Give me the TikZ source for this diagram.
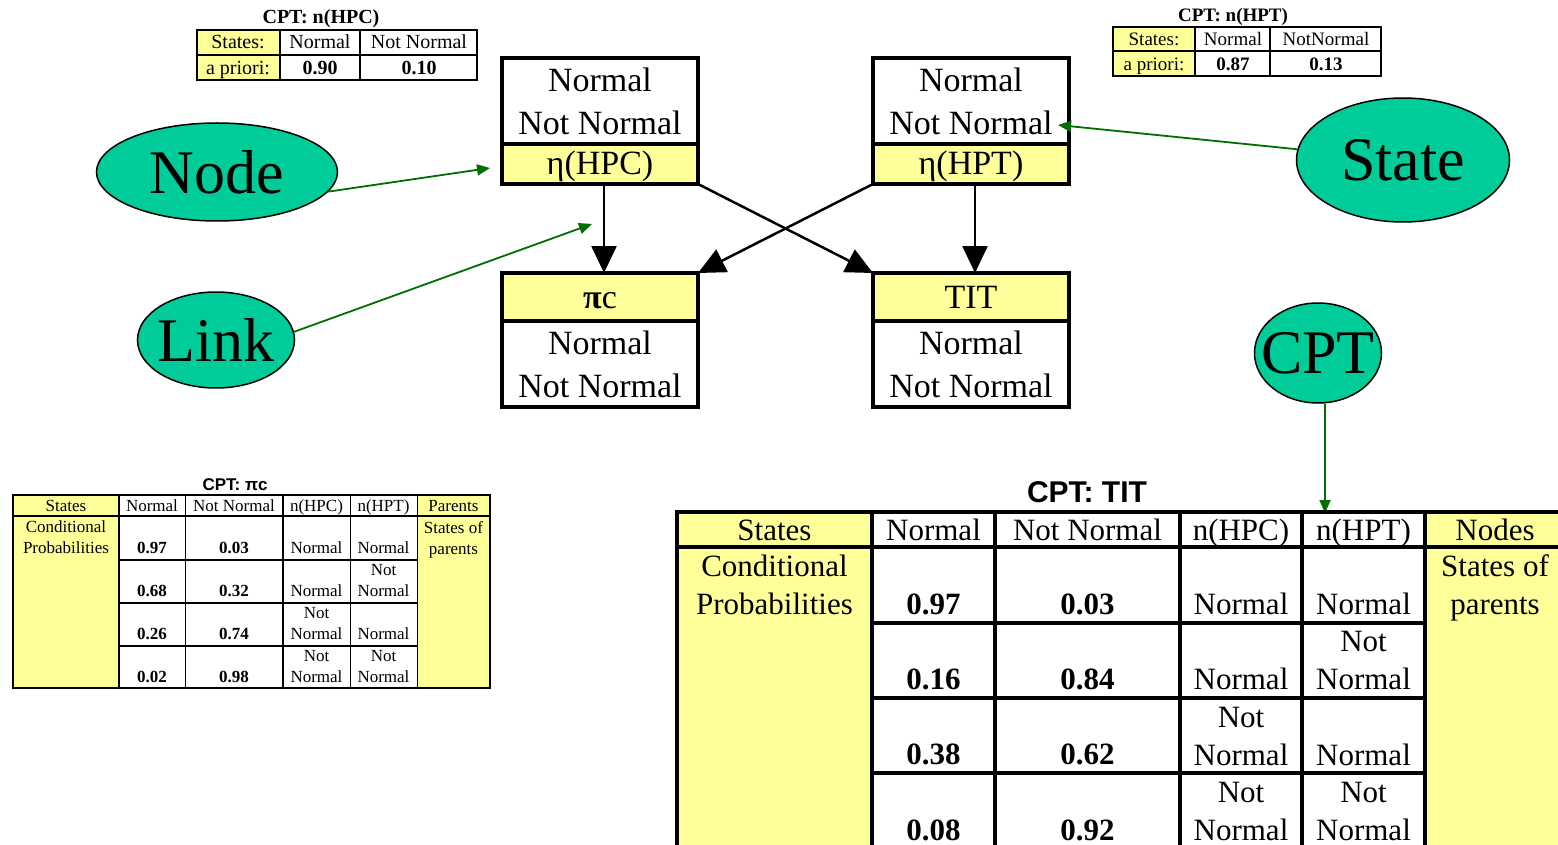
\documentclass[tikz,border=0pt]{standalone}
\usepackage{fontspec}
\setmainfont{Liberation Serif}
\setsansfont{Liberation Sans}
\usetikzlibrary{arrows.meta,positioning,shapes.geometric}

\definecolor{cptyellow}{RGB}{255,255,153}
\definecolor{ovalgreen}{RGB}{0,204,153}
\definecolor{pointgreen}{RGB}{0,110,0}

\begin{document}
\begin{tikzpicture}[x=1pt,y=-1pt,inner sep=0pt,
    link/.style={-{Triangle[length=27pt,width=25pt]},line width=2.5pt},
    pointer/.style={-{Triangle[length=13pt,width=11pt]},line width=1.8pt,color=pointgreen}]
  \tikzstyle{namebox}=[draw,line width=4pt,outer sep=0pt,fill=cptyellow,minimum width=196pt,text height=22pt,text depth=0pt,font=\fontsize{34}{43}\selectfont]
  \tikzstyle{statebox}=[draw,line width=4pt,outer sep=0pt,fill=white,minimum width=196pt,minimum height=86pt,align=center,font=\fontsize{34}{43}\selectfont]
  \tikzstyle{oval}=[ellipse,draw,line width=1.5pt,fill=ovalgreen,inner xsep=-20pt,font=\fontsize{62}{62}\selectfont]
  \tikzstyle{topcell}=[text height=13pt,text depth=0pt,font=\fontsize{20}{20}\selectfont]
  \tikzstyle{topnum}=[topcell,font=\bfseries\fontsize{20}{20}\selectfont]
  \tikzstyle{smallcell}=[text height=11.2pt,text depth=0pt,font=\fontsize{17}{21}\selectfont]
  \tikzstyle{smallstack}=[anchor=south,align=center,font=\fontsize{17}{21}\selectfont]
  \tikzstyle{smallnum}=[anchor=south,font=\bfseries\fontsize{17}{21}\selectfont]
  \tikzstyle{bigcell}=[text height=20.5pt,text depth=0pt,font=\fontsize{31}{38}\selectfont]
  \tikzstyle{bigstack}=[align=center,font=\fontsize{31}{38}\selectfont]
  \tikzstyle{bignum}=[anchor=south,font=\bfseries\fontsize{31}{38}\selectfont]

  \useasboundingbox (0,0) rectangle (1558,845);
  \clip (0,0) rectangle (1558,845);

  % a priori table of n(HPC)
  \node[topnum] (hpccpt) at (321,17) {CPT: n(HPC)};
  \fill[cptyellow] (197,30) rectangle (280,80);
  \draw[line width=2pt] (197,30) rectangle (477,80) (197,55) -- (477,55)
    (280,30) -- (280,80) (360,30) -- (360,80);
  \node[topcell] (hpcstates) at (238,42) {States:};
  \node[topcell] (hpcprior) at (238,68) {a priori:};
  \node[topcell] (hpcnorm) at (320,42) {Normal};
  \node[topcell] (hpcnot) at (419,42) {Not Normal};
  \node[topnum] (hpcpnorm) at (320,68) {0.90};
  \node[topnum] (hpcpnot) at (419,68) {0.10};

  % a priori table of n(HPT)
  \node[topnum,font=\bfseries\fontsize{19}{19}\selectfont] (hptcpt) at (1233,15) {CPT: n(HPT)};
  \fill[cptyellow] (1113,27) rectangle (1195,76);
  \draw[line width=2pt] (1113,27) rectangle (1381,76) (1113,51.5) -- (1381,51.5)
    (1195,27) -- (1195,76) (1270,27) -- (1270,76);
  \node[topcell,font=\fontsize{19}{19}\selectfont] (hptstates) at (1154,39) {States:};
  \node[topcell,font=\fontsize{19}{19}\selectfont] (hptprior) at (1154,64) {a priori:};
  \node[topcell,font=\fontsize{19}{19}\selectfont] (hptnorm) at (1233,39) {Normal};
  \node[topcell,font=\fontsize{19}{19}\selectfont] (hptnot) at (1326,39) {NotNormal};
  \node[topnum,font=\bfseries\fontsize{19}{19}\selectfont] (hptpnorm) at (1233,64) {0.87};
  \node[topnum,font=\bfseries\fontsize{19}{19}\selectfont] (hptpnot) at (1326,64) {0.13};

  % network
  \node[namebox,minimum height=40pt] (hpcname) at (600,164) {η(HPC)};
  \node[statebox,above=0pt of hpcname] (hpc) {Normal\\Not Normal};
  \node[namebox,minimum height=40pt] (hptname) at (971,164) {η(HPT)};
  \node[statebox,above=0pt of hptname] (hpt) {Normal\\Not Normal};
  \node[namebox,minimum height=48pt] (pic) at (600,297) {\textbf{π}c};
  \node[statebox,below=0pt of pic] (picstates) {Normal\\Not Normal};
  \node[namebox,minimum height=48pt] (tit) at (971,297) {TIT};
  \node[statebox,below=0pt of tit] (titstates) {Normal\\Not Normal};

  \draw[link] ([xshift=4pt]hpcname.south) -- ([xshift=4pt]pic.north);
  \draw[link] (hpcname.south east) -- (tit.north west);
  \draw[link] (hptname.south west) -- (pic.north east);
  \draw[link] ([xshift=4pt]hptname.south) -- ([xshift=4pt]tit.north);

  % labels
  \node[oval,minimum width=241pt,minimum height=98pt] (nodeoval) at (217,172) {Node};
  \node[oval,minimum width=213pt,minimum height=124pt] (stateoval) at (1403,160) {State};
  \node[oval,minimum width=157pt,minimum height=96pt] (linkoval) at (216,340) {Link};
  \node[oval,minimum width=127pt,minimum height=100pt] (cptoval) at (1318,353) {CPT};

  \coordinate (nodetip) at (490,168);
  \coordinate (statetip) at (1058,125);
  \coordinate (linktip) at (592,224);
  \coordinate (cpttip) at (1325,513);
  \draw[pointer] (nodeoval.-10) -- (nodetip);
  \draw[pointer] (stateoval) -- (statetip);
  \draw[pointer] (linkoval.6) -- (linktip);
  \draw[pointer] (cptoval.south -| cpttip) -- (cpttip);

  % CPT of pi_c
  \node[smallcell,font=\sffamily\bfseries\fontsize{17}{17}\selectfont,text height=12.2pt] (picpt) at (235,484) {CPT: πc};
  \fill[cptyellow] (13,495) rectangle (119,688) (417,495) rectangle (490,688);
  \draw[line width=1pt] (185,495) -- (185,688) (350,495) -- (350,688) (417,495) -- (417,688);
  \foreach \y in {560,603,646}
    \draw[line width=1.5pt] (119,\y) -- (417,\y);
  \draw[line width=2pt] (13,495) rectangle (490,688) (13,516) -- (490,516)
    (119,495) -- (119,688) (283,495) -- (283,688);
  \node[smallcell] (picstateshd) at (66,506) {States};
  \node[smallcell] (picnormhd) at (152,506) {Normal};
  \node[smallcell] (picnothd) at (234,506) {Not Normal};
  \node[smallcell] (pichpchd) at (316.5,506) {n(HPC)};
  \node[smallcell] (pichpthd) at (383.5,506) {n(HPT)};
  \node[smallcell] (picparhd) at (453.5,506) {Parents};
  \node[smallstack] (piccond) at (66,554) {Conditional\\Probabilities};
  \node[smallstack,anchor=north] (picpar) at (453.5,521.5) {States of\\parents};
  \foreach \pn/\pa/\ua/\ub [count=\i from 0] in
      {0.97/0.03/Normal/Normal, 0.68/0.32/Normal/{Not\\Normal},
       0.26/0.74/{Not\\Normal}/Normal, 0.02/0.98/{Not\\Normal}/{Not\\Normal}}{
    \pgfmathsetmacro\rowy{516+43*\i}
    \node[smallnum] (picpn\i) at (152,\rowy+38) {\pn};
    \node[smallnum] (picpa\i) at (234,\rowy+38) {\pa};
    \node[smallstack] (pichpc\i) at (316.5,\rowy+38) {\ua};
    \node[smallstack] (pichpt\i) at (383.5,\rowy+38) {\ub};
  }

  % CPT of TIT
  \node[bigcell,font=\sffamily\bfseries\fontsize{30}{30}\selectfont,text height=21.5pt] (titcpt) at (1087,492) {CPT: TIT};
  \fill[cptyellow] (677,512) rectangle (872,880) (1425,512) rectangle (1600,880);
  \draw[line width=4pt] (677,512) rectangle (1600,880) (677,547) -- (1600,547);
  \foreach \x in {872,995,1180,1302,1425}
    \draw[line width=4pt] (\x,512) -- (\x,880);
  \foreach \y in {623,698,773,848}
    \draw[line width=4pt] (872,\y) -- (1425,\y);
  \node[bigcell] (titstateshd) at (774.5,530) {States};
  \node[bigcell] (titnormhd) at (933.5,530) {Normal};
  \node[bigcell] (titnothd) at (1087.5,530) {Not Normal};
  \node[bigcell] (tithpchd) at (1241,530) {n(HPC)};
  \node[bigcell] (tithpthd) at (1363.5,530) {n(HPT)};
  \node[bigcell] (titnodeshd) at (1495,530) {Nodes};
  \node[bigstack] (titcond) at (774.5,584.5) {Conditional\\Probabilities};
  \node[bigstack] (titpar) at (1495,588) {States of\\parents};
  \foreach \pn/\pa/\ua/\ub [count=\i from 0] in
      {0.97/0.03/Normal/Normal, 0.16/0.84/Normal/{Not\\Normal},
       0.38/0.62/{Not\\Normal}/Normal, 0.08/0.92/{Not\\Normal}/{Not\\Normal}}{
    \pgfmathsetmacro\rowy{547+75.3*\i}
    \node[bignum] (titpn\i) at (933.5,\rowy+68) {\pn};
    \node[bignum] (titpa\i) at (1087.5,\rowy+68) {\pa};
    \node[bigstack,anchor=south] (tithpc\i) at (1241,\rowy+68) {\ua};
    \node[bigstack,anchor=south] (tithpt\i) at (1363.5,\rowy+68) {\ub};
  }
\end{tikzpicture}
\end{document}
